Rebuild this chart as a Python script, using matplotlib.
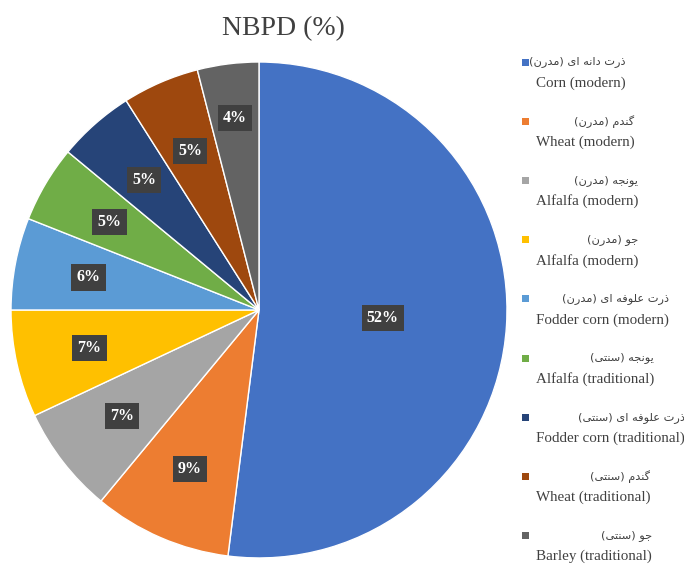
import matplotlib.pyplot as plt
import numpy as np
from matplotlib.patches import Rectangle

# data
values = [52, 9, 7, 7, 6, 5, 5, 5, 4]
labels_fa = ["ذرت دانه ای (مدرن)", "گندم (مدرن)", "یونجه (مدرن)", "جو (مدرن)",
             "ذرت علوفه ای (مدرن)", "یونجه (سنتی)", "ذرت علوفه ای (سنتی)",
             "گندم (سنتی)", "جو (سنتی)"]
labels_en = ["Corn (modern)", "Wheat (modern)", "Alfalfa (modern)", "Alfalfa (modern)",
             "Fodder corn (modern)", "Alfalfa (traditional)", "Fodder corn (traditional)",
             "Wheat (traditional)", "Barley (traditional)"]
colors = ["#4472C4", "#ED7D31", "#A5A5A5", "#FFC000", "#5B9BD5",
          "#70AD47", "#264478", "#9E480E", "#636363"]

# tiny persian shaper (matplotlib has no bidi / shaping)
forms = {
    'ا': ('\uFE8D', '\uFE8E', None, None),
    'د': ('\uFEA9', '\uFEAA', None, None),
    'ذ': ('\uFEAB', '\uFEAC', None, None),
    'ر': ('\uFEAD', '\uFEAE', None, None),
    'و': ('\uFEED', '\uFEEE', None, None),
    'ت': ('\uFE95', '\uFE96', '\uFE97', '\uFE98'),
    'ن': ('\uFEE5', '\uFEE6', '\uFEE7', '\uFEE8'),
    'ه': ('\uFEE9', '\uFEEA', '\uFEEB', '\uFEEC'),
    'ی': ('\uFBFC', '\uFBFD', '\uFBFE', '\uFBFF'),
    'م': ('\uFEE1', '\uFEE2', '\uFEE3', '\uFEE4'),
    'گ': ('\uFB92', '\uFB93', '\uFB94', '\uFB95'),
    'ج': ('\uFE9D', '\uFE9E', '\uFE9F', '\uFEA0'),
    'ع': ('\uFEC9', '\uFECA', '\uFECB', '\uFECC'),
    'ل': ('\uFEDD', '\uFEDE', '\uFEDF', '\uFEE0'),
    'ف': ('\uFED1', '\uFED2', '\uFED3', '\uFED4'),
    'س': ('\uFEB1', '\uFEB2', '\uFEB3', '\uFEB4'),
}


def shape(s):
    out = []
    for i, c in enumerate(s):
        if c not in forms:
            out.append(c)
            continue
        prev = s[i - 1] if i > 0 else ''
        nxt = s[i + 1] if i < len(s) - 1 else ''
        jp = prev in forms and forms[prev][2] is not None
        jn = forms[c][2] is not None and nxt in forms
        if jp and jn:
            out.append(forms[c][3])
        elif jp:
            out.append(forms[c][1])
        elif jn:
            out.append(forms[c][2])
        else:
            out.append(forms[c][0])
    vis = ''.join(out)[::-1]
    return vis.translate(str.maketrans('()', ')('))


fig = plt.figure(figsize=(6.84, 5.67), dpi=100)
fig.patch.set_facecolor('white')

ax = fig.add_axes([0.0161, 0.0159, 0.7251, 0.8748])
wedges, _ = ax.pie(values, colors=colors, startangle=90, counterclock=False,
                   wedgeprops=dict(edgecolor='white', linewidth=1.0))
ax.set_xlim(-1, 1)
ax.set_ylim(-1, 1)
ax.set_aspect('equal')

for w, v in zip(wedges, values):
    ang = np.deg2rad((w.theta1 + w.theta2) / 2)
    if v > 40:
        r = 0.5
    elif v < 5:
        r = 0.78
    else:
        r = 0.70
    ax.text(r * np.cos(ang), r * np.sin(ang), f"{v}%", ha='center', va='center',
            color='white', fontsize=11.5, fontweight='bold', family='Liberation Serif',
            bbox=dict(boxstyle='square,pad=0.32', facecolor='#404040', edgecolor='none'))

fig.text(0.414, 0.949, "NBPD (%)", ha='center', va='center', fontsize=20,
         family='Liberation Serif', color='#404040')

# legend, drawn by hand: marker + persian line + english line
for i in range(len(values)):
    y = 1 - (62 + i * 59.2) / 567
    fig.patches.append(Rectangle((522 / 684, y - 3.5 / 567), 7 / 684, 7 / 567,
                                 transform=fig.transFigure, facecolor=colors[i],
                                 edgecolor='none'))
    t_en = fig.text(536 / 684, y - 21 / 567, labels_en[i], ha='left', va='center',
                    fontsize=10.8, family='Liberation Serif', color='#404040')
    fig.canvas.draw()
    bb = t_en.get_window_extent()
    right = bb.x1 / fig.bbox.width
    fig.text(right, y, shape(labels_fa[i]), ha='right', va='center', fontsize=8.2,
             family=['DejaVu Sans'], color='#404040')

fig.savefig('out.png', dpi=100)
